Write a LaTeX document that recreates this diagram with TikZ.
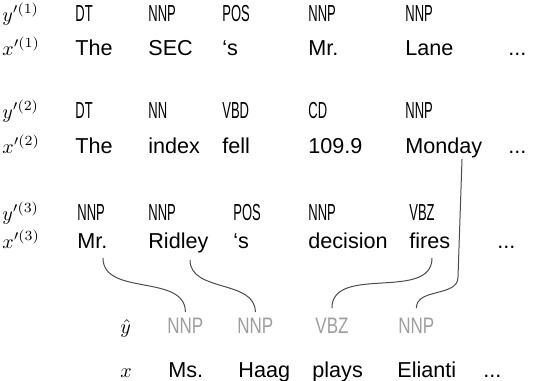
\documentclass[tikz,border=0pt]{standalone}
\usepackage{fontspec}
\setmainfont{Liberation Sans}
\newfontfamily\tagfont[FakeStretch=0.56]{Liberation Sans}
\newfontfamily\hypfont[FakeStretch=0.76]{Liberation Sans}
\usetikzlibrary{calc}

\begin{document}
\begin{tikzpicture}[
  x=0.5pt, y=-0.5pt,
  word/.style={anchor=base west, inner sep=0pt, font=\fontsize{10.8}{13}\selectfont},
  tag/.style={anchor=base west, inner sep=0pt, font=\tagfont\fontsize{11.6}{13}\selectfont},
  hyp/.style={anchor=base west, inner sep=0pt, text=black!38, font=\hypfont\fontsize{11.2}{13}\selectfont},
  lbl/.style={anchor=base west, inner sep=0pt, font=\fontsize{10.4}{13}\selectfont},
  link/.style={draw=black!70, line width=0.5pt}
]
% Picture is laid out in pixel units of the target (y grows downward)
\useasboundingbox (0,0) rectangle (534,380);

% Column x-positions of the retrieved sentences
\def\cA{75}
\def\cB{148}
\def\cC{222}
\def\cD{308}
\def\cE{405}

% Baselines: tag row / word row of each sentence
\def\rTa{21}  \def\rWa{55}
\def\rTb{118} \def\rWb{153}
\def\rTc{220} \def\rWc{248}
\def\rTh{333} \def\rWh{377}

% Sentence 1
\node[lbl] (ya) at (2,\rTa) {$y'^{(1)}$};
\node[lbl] (xa) at (2,\rWa) {$x'^{(1)}$};
\node[tag] (ta1) at (\cA,\rTa) {DT};
\node[tag] (ta2) at (\cB,\rTa) {NNP};
\node[tag] (ta3) at (\cC,\rTa) {POS};
\node[tag] (ta4) at (\cD,\rTa) {NNP};
\node[tag] (ta5) at (\cE,\rTa) {NNP};
\node[word] (wa1) at (\cA,\rWa) {The};
\node[word] (wa2) at (\cB,\rWa) {SEC};
\node[word] (wa3) at (\cC,\rWa) {`s};
\node[word] (wa4) at (\cD,\rWa) {Mr.};
\node[word] (wa5) at (\cE,\rWa) {Lane};
\node[word] (da) at (508,\rWa) {...};

% Sentence 2
\node[lbl] (yb) at (2,\rTb) {$y'^{(2)}$};
\node[lbl] (xb) at (2,\rWb) {$x'^{(2)}$};
\node[tag] (tb1) at (\cA,\rTb) {DT};
\node[tag] (tb2) at (\cB,\rTb) {NN};
\node[tag] (tb3) at (\cC,\rTb) {VBD};
\node[tag] (tb4) at (\cD,\rTb) {CD};
\node[tag] (tb5) at (\cE,\rTb) {NNP};
\node[word] (wb1) at (\cA,\rWb) {The};
\node[word] (wb2) at (\cB,\rWb) {index};
\node[word] (wb3) at (\cC,\rWb) {fell};
\node[word] (wb4) at (\cD,\rWb) {109.9};
\node[word] (wb5) at (\cE,\rWb) {Monday};
\node[word] (db) at (508,\rWb) {...};

% Sentence 3
\node[lbl] (yc) at (2,\rTc) {$y'^{(3)}$};
\node[lbl] (xc) at (2,\rWc) {$x'^{(3)}$};
\node[tag] (tc1) at (77,\rTc) {NNP};
\node[tag] (tc2) at (\cB,\rTc) {NNP};
\node[tag] (tc3) at (233,\rTc) {POS};
\node[tag] (tc4) at (\cD,\rTc) {NNP};
\node[tag] (tc5) at (409,\rTc) {VBZ};
\node[word] (wc1) at (77,\rWc) {Mr.};
\node[word] (wc2) at (\cB,\rWc) {Ridley};
\node[word] (wc3) at (233,\rWc) {`s};
\node[word] (wc4) at (\cD,\rWc) {decision};
\node[word] (wc5) at (409,\rWc) {fires};
\node[word] (dc) at (497,\rWc) {...};

% Test sentence with projected tags
\node[lbl] (yh) at (120,\rTh) {$\hat{y}$};
\node[lbl] (xh) at (120,\rWh) {$x$};
\node[hyp] (h1) at (167,\rTh) {NNP};
\node[hyp] (h2) at (237,\rTh) {NNP};
\node[hyp] (h3) at (315,\rTh) {VBZ};
\node[hyp] (h4) at (398,\rTh) {NNP};
\node[word] (s1) at (168,\rWh) {Ms.};
\node[word] (s2) at (238,\rWh) {Haag};
\node[word] (s3) at (312,\rWh) {plays};
\node[word] (s4) at (397,\rWh) {Elianti};
\node[word] (ds) at (483,\rWh) {...};

% Links from retrieved words to the tags they lend
\draw[link] ($(wc1.base west)+(26,10)$) to[out=-90,in=90] ($(h1.base)+(0,-21)$);
\draw[link] ($(wc2.base west)+(42,12)$) to[out=-90,in=90] ($(h2.base)+(0,-21)$);
\draw[link] ($(wc5.base west)+(23,10)$) to[out=-90,in=90] ($(h3.base)+(0,-25)$);
\draw[link] ($(wb5.base west)+(57,6)$) -- ++(-4,118) to[out=-90,in=90] ($(h4.base)+(0,-25)$);

\end{tikzpicture}
\end{document}
